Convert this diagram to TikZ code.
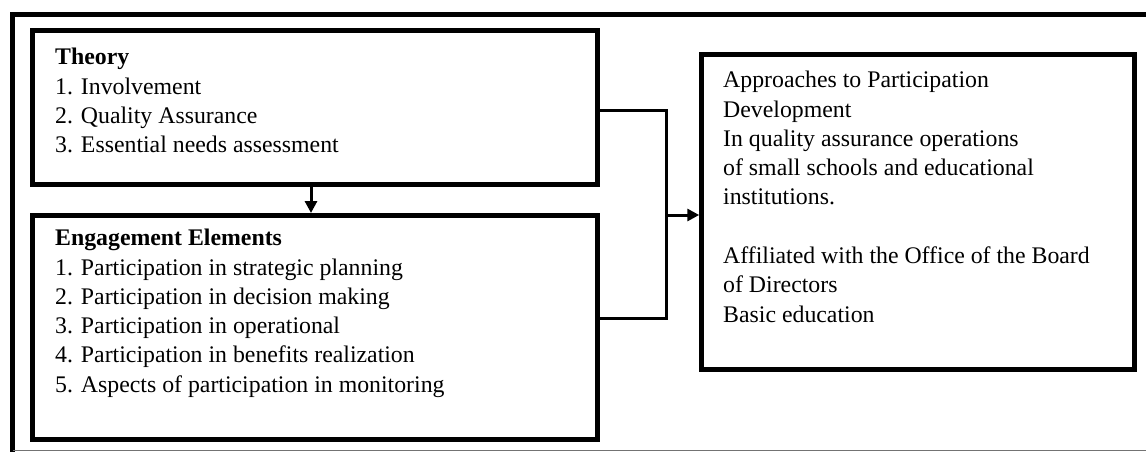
\documentclass[tikz,border=0pt]{standalone}
\usepackage{fontspec}
\setmainfont{Liberation Serif}
\usetikzlibrary{arrows.meta}
\tikzset{
  box/.style={draw=black, line width=5pt, minimum width=#1, inner sep=0pt},
  txt/.style={anchor=north west, align=left, inner sep=0pt,
    font=\fontsize{23.8}{29.3}\selectfont},
  conn/.style={draw=black, line width=3pt},
  tip/.style={-{Triangle[length=12pt,width=12pt]}}
}
\begin{document}
\begin{tikzpicture}[x=1pt,y=-1pt]
\useasboundingbox (0,0) rectangle (1146,452);
% outer frame
\draw[line width=5pt] (12.5,15) -- (1146,15);
\draw[line width=5pt] (12.5,12.5) -- (12.5,452);
\draw[line width=1pt, black!55] (12.5,450.5) -- (1146,450.5);
% boxes
\node[box=565pt, minimum height=154pt] (theory) at (315,107.5) {};
\node[box=565pt, minimum height=224pt] (engage) at (315,327.5) {};
\node[box=432.5pt, minimum height=315.5pt] (approach) at (918,212) {};
% texts
\node[txt] (ttheory) at (55,48) {\textbf{Theory}\\1. Involvement\\2. Quality Assurance\\3. Essential needs assessment};
\node[txt] (tengage) at (55,229) {\textbf{Engagement Elements}\\1. Participation in strategic planning\\2. Participation in decision making\\3. Participation in operational\\4. Participation in benefits realization\\5. Aspects of participation in monitoring};
\node[txt] (tapproach) at (723,71) {Approaches to Participation\\Development\\In quality assurance operations\\of small schools and educational\\institutions.\\[29.3pt]Affiliated with the Office of the Board\\of Directors\\Basic education};
% connectors
\coordinate (j) at (666.5,215);
\draw[conn, line cap=rect] ([yshift=-2.5pt]theory.east) -| (j) |- ([yshift=9.5pt]engage.east);
\draw[conn, tip] (j) -- (approach.west |- j);
\draw[conn, tip] ([xshift=-4pt]theory.south) -- ([xshift=-4pt]engage.north);
\end{tikzpicture}
\end{document}
